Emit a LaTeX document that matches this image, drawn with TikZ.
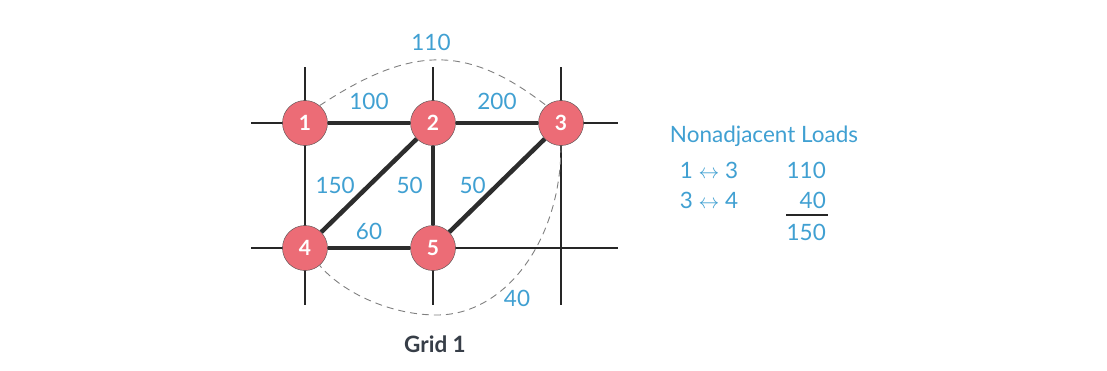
\documentclass[tikz,border=0pt]{standalone}
\usepackage{fontspec}
\setmainfont{Lato}
\usetikzlibrary{positioning}
\definecolor{wtblue}{RGB}{64,160,210}
\definecolor{buspink}{RGB}{236,108,118}
\definecolor{feedgray}{RGB}{45,45,45}
\definecolor{capgray}{RGB}{55,62,72}

\begin{document}
\begin{tikzpicture}[x=1pt, y=-1pt, node distance=125pt and 128pt, on grid,
  every node/.style={font=\fontsize{22.5}{26}\selectfont},
  bus/.style={circle, draw=black!70, fill=buspink, minimum size=45pt, inner sep=0pt,
    text=white, font=\fontsize{21}{24}\selectfont\bfseries},
  feeder/.style={line width=4.5pt, draw=feedgray},
  gridline/.style={line width=1.2pt, draw=black!85},
  loadarc/.style={line width=0.9pt, draw=black!50, dash pattern=on 7pt off 5pt},
  wt/.style={text=wtblue, inner sep=0pt}]
  \fill[white] (0,0) rectangle (1107,370);
  \useasboundingbox (0,0) rectangle (1107,370);

  % street grid
  \foreach \x in {305,433,561} \draw[gridline] (\x,67) -- (\x,305);
  \foreach \y in {123,248} \draw[gridline] (251,\y) -- (618,\y);

  % buses
  \node[bus] (n1) at (305,123) {1};
  \node[bus, right=of n1] (n2) {2};
  \node[bus, right=of n2] (n3) {3};
  \node[bus, below=of n1] (n4) {4};
  \node[bus, below=of n2] (n5) {5};

  % feeders
  \draw[feeder] (n1) -- node[wt, above=11pt] (w12) {100} (n2);
  \draw[feeder] (n2) -- node[wt, above=11pt] (w23) {200} (n3);
  \draw[feeder] (n2) -- node[wt, left=12pt] (w24) {150} (n4);
  \draw[feeder] (n2) -- node[wt, left=8pt] (w25) {50} (n5);
  \draw[feeder] (n3) -- node[wt, left=9pt] (w35) {50} (n5);
  \draw[feeder] (n4) -- node[wt, above=6pt] (w45) {60} (n5);

  % nonadjacent loads
  \draw[loadarc] (n1.50) .. controls +(94,-62) and +(-78,-60) .. node[wt, above=9pt, xshift=-8pt] (w13) {110} (n3.130);
  \coordinate (arcbot) at (437,315);
  \draw[loadarc] (n3.south) .. controls +(0,95) and +(68,0) .. (arcbot)
    .. controls +(-47,0) and +(23,27) .. (n4.-50);
  \node[wt] (w34) at (517,298) {40};

  \node[anchor=base, text=capgray, font=\fontsize{22.5}{26}\selectfont\bfseries] (cap) at (435,352) {Grid 1};

  % load table
  \node[wt, anchor=base] (title) at (764,142) {Nonadjacent Loads};
  \node[wt, anchor=base] (p13) at (709,178) {1 $\leftrightarrow$ 3};
  \node[wt, anchor=base] (p34) at (709,208) {3 $\leftrightarrow$ 4};
  \node[wt, anchor=base east] (v13) at (826,178) {110};
  \node[wt, anchor=base east] (v34) at (826,208) {40};
  \node[wt, anchor=base east] (vsum) at (826,240) {150};
  \draw[line width=1.2pt, draw=black!85] (786,215) -- (828,215);
\end{tikzpicture}
\end{document}
